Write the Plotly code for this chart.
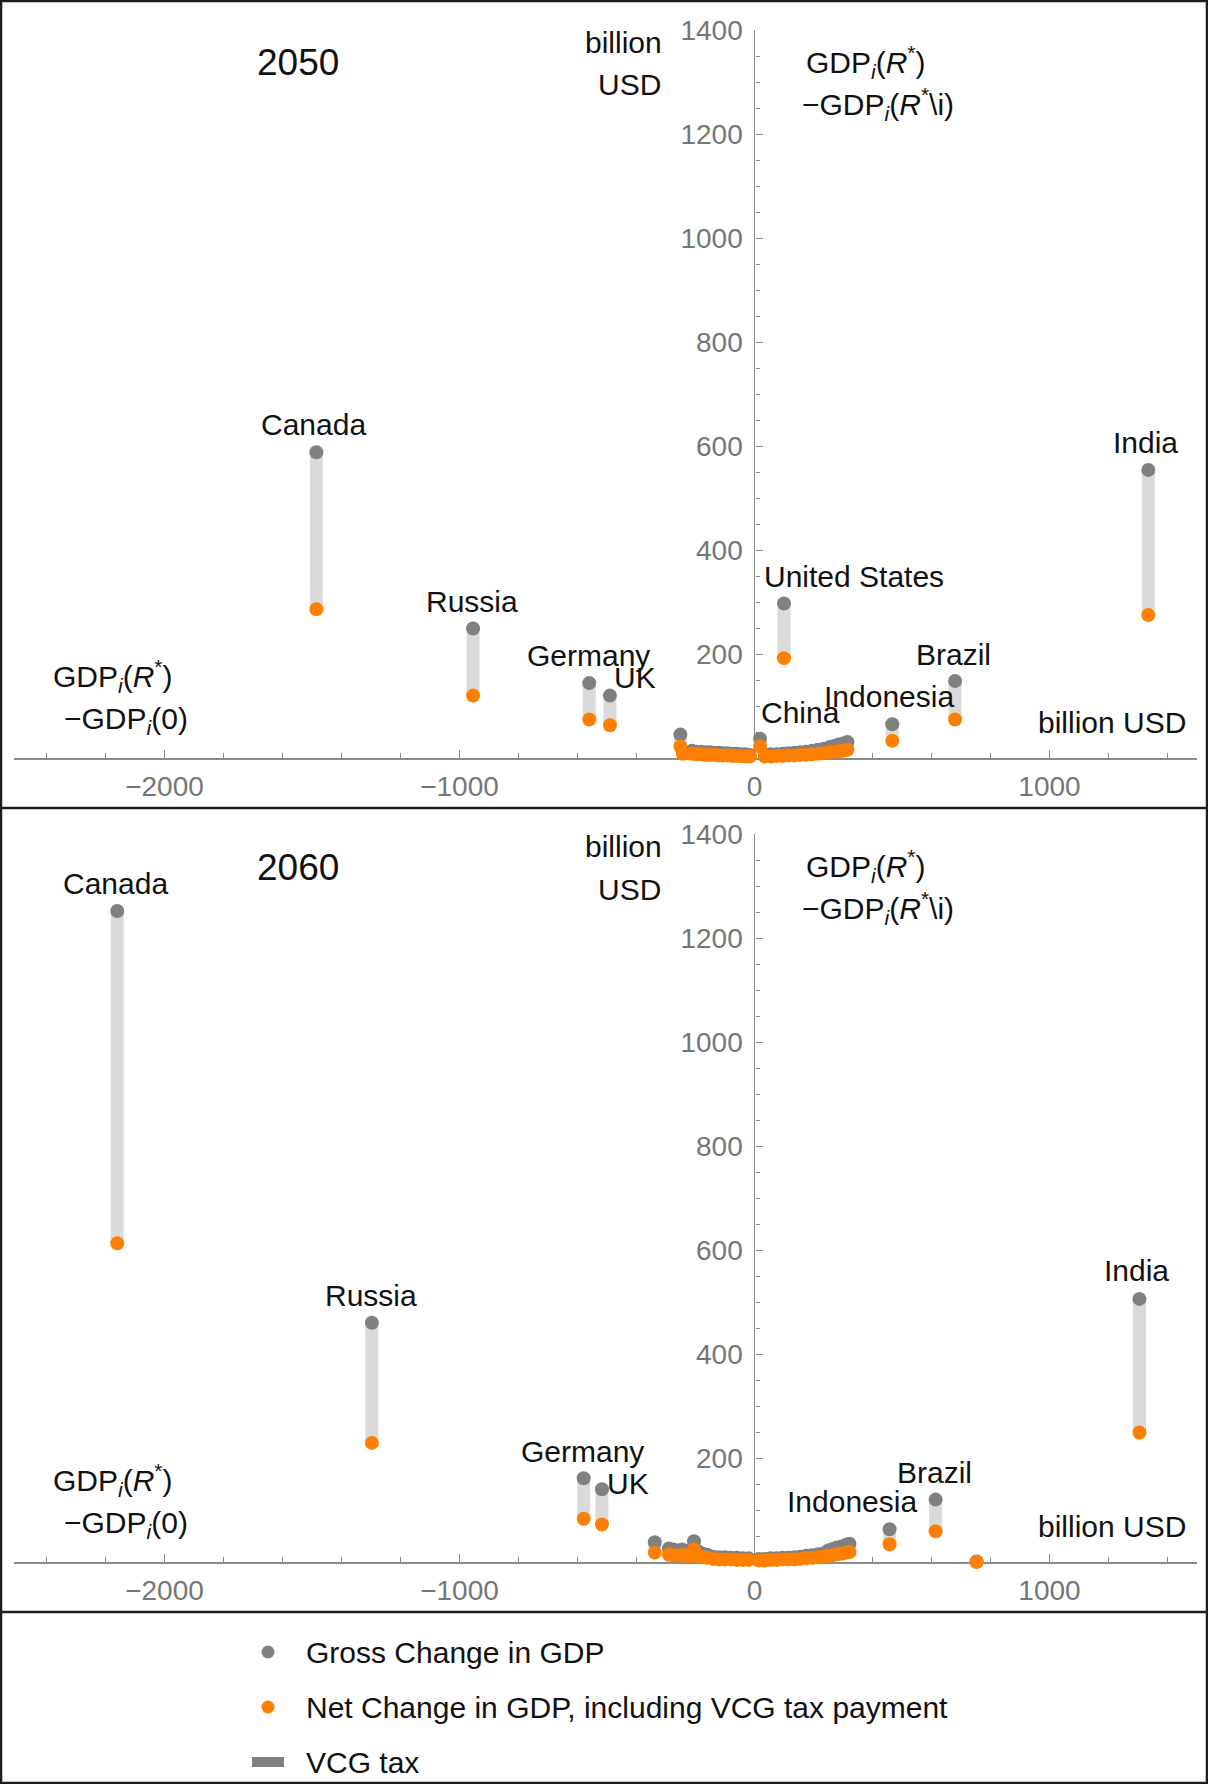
import plotly.graph_objects as go

# ---------------- data ----------------
# 2050 labelled countries
names_2050 = ["Canada", "Russia", "Germany", "UK", "United States", "China", "Indonesia", "Brazil", "India"]
x_2050 = [-1485, -954, -560, -490, 100, 19, 467, 680, 1335]
gross_2050 = [588, 249, 144, 120, 297, 37, 65, 148, 554]
net_2050 = [286, 120, 74, 63, 192, 22, 33, 74, 275]

# 2050 unlabelled countries (cluster near the origin)
cx_2050 = [-251, -243, -212, -196, -181, -166, -151, -136, -121, -106, -91, -76, -61, -46, -31, -16,
           35, 55, 75, 95, 115, 135, 155, 175, 195, 215, 235, 255, 270, 285, 300, 315]
cgross_2050 = [45, 14, 14, 12, 12, 11, 11, 10, 10, 9, 9, 8, 8, 7, 7, 6,
               6, 7, 7, 8, 9, 10, 11, 12, 14, 16, 18, 21, 23, 26, 28, 31]
cnet_2050 = [22, 8, 8, 7, 7, 6, 6, 6, 5, 5, 5, 4, 4, 4, 3, 3,
             3, 3, 4, 4, 5, 5, 6, 6, 7, 8, 9, 11, 12, 13, 14, 16]

# 2060 labelled countries
names_2060 = ["Canada", "Russia", "Germany", "UK", "Indonesia", "Brazil", "India"]
x_2060 = [-2160, -1297, -579, -517, 458, 614, 1305]
gross_2060 = [1252, 460, 161, 140, 63, 120, 506]
net_2060 = [613, 229, 83, 72, 34, 59, 249]

# 2060 unlabelled countries
cx_2060 = [-338, -290, -275, -260, -245, -230, -218, -205, -190, -175, -160, -140, -120, -100, -80, -60,
           -40, -20, 15, 35, 55, 75, 95, 115, 135, 155, 175, 195, 215, 235, 250, 265, 280, 295, 310, 322, 753]
cgross_2060 = [38, 26, 24, 22, 24, 20, 22, 40, 20, 16, 14, 10, 9, 9, 8, 8,
               7, 7, 6, 6, 7, 7, 8, 8, 9, 10, 12, 13, 15, 17, 22, 25, 28, 30, 33, 35, 1]
cnet_2060 = [18, 14, 13, 12, 14, 11, 12, 24, 11, 9, 8, 6, 5, 5, 5, 4,
             4, 4, 3, 3, 4, 4, 5, 5, 5, 6, 7, 8, 9, 10, 12, 13, 15, 16, 18, 19, 0]

x_ticks = [-2000, -1000, 0, 1000]
y_ticks = [200, 400, 600, 800, 1000, 1200, 1400]

legend_labels = ["Gross Change in GDP", "Net Change in GDP, including VCG tax payment", "VCG tax"]

# ---------------- styling / geometry ----------------
W, H = 1208, 1784
FONT = "Arial, 'Liberation Sans', sans-serif"
GRAY = "#808080"
ORANGE = "#ff8000"
BAR = "#dadada"
AXIS = "#8a8a8a"
TICKTXT = "#767676"

X_RANGE = [-2510, 1500]
X_PX = (14, 1197)
PANELS = [  # (y px of value 0, y px of value 1400)
    (758, 30),
    (1562, 834),
]


def pxx(p):
    return p / W


def pxy(p):
    return 1 - p / H


# label offsets (px) relative to the gross point
label_off = {
    2050: {"Canada": (-3, 28), "Russia": (-1, 27), "Germany": (-1, 28), "UK": (25, 18),
           "United States": (70, 27), "China": (40, 26), "Indonesia": (-3, 28), "Brazil": (-2, 27),
           "India": (-3, 27)},
    2060: {"Canada": (-2, 27), "Russia": (-1, 27), "Germany": (-1, 27), "UK": (26, 6),
           "Indonesia": (-38, 28), "Brazil": (-1, 27), "India": (-3, 28)},
}

fig = go.Figure()

datasets = [
    (2050, names_2050, x_2050, gross_2050, net_2050, cx_2050, cgross_2050, cnet_2050),
    (2060, names_2060, x_2060, gross_2060, net_2060, cx_2060, cgross_2060, cnet_2060),
]

annotations = []
x_dom = [pxx(X_PX[0]), pxx(X_PX[1])]
zero_frac = (0 - X_RANGE[0]) / (X_RANGE[1] - X_RANGE[0])
yaxis_pos = x_dom[0] + zero_frac * (x_dom[1] - x_dom[0])

layout_axes = {}
for i, (year, names, xs, gs, ns, cxs, cgs, cns) in enumerate(datasets):
    sfx = "" if i == 0 else str(i + 1)
    xa, ya = "x" + sfx, "y" + sfx
    all_x = xs + cxs
    all_g = gs + cgs
    all_n = ns + cns
    # VCG tax bars
    bx, by = [], []
    for xv, g, n in zip(all_x, all_g, all_n):
        bx += [xv, xv, None]
        by += [n, g, None]
    fig.add_trace(go.Scatter(x=bx, y=by, mode="lines", line=dict(color=BAR, width=13),
                             xaxis=xa, yaxis=ya, showlegend=False, hoverinfo="skip"))
    fig.add_trace(go.Scatter(x=all_x, y=all_g, mode="markers", cliponaxis=False,
                             marker=dict(color=GRAY, size=14, line=dict(width=0)),
                             xaxis=xa, yaxis=ya, showlegend=False))
    fig.add_trace(go.Scatter(x=all_x, y=all_n, mode="markers", cliponaxis=False,
                             marker=dict(color=ORANGE, size=14, line=dict(width=0)),
                             xaxis=xa, yaxis=ya, showlegend=False))
    # country labels
    for nm, xv, g in zip(names, xs, gs):
        dx, dy = label_off[year][nm]
        annotations.append(dict(x=xv, y=g, xref=xa, yref=ya, text=nm, showarrow=False,
                                xanchor="center", yanchor="middle", xshift=dx, yshift=dy,
                                font=dict(family=FONT, size=30, color="#111")))
    y0px, y1px = PANELS[i]
    y_dom = [pxy(y0px), pxy(y1px)]
    layout_axes["xaxis" + sfx] = dict(
        domain=x_dom, range=X_RANGE, anchor=ya, showline=True, linecolor=AXIS, linewidth=2,
        ticks="inside", tickvals=x_ticks, ticklen=8, tickwidth=1.3, tickcolor=AXIS,
        tickfont=dict(family=FONT, size=28, color=TICKTXT), showgrid=False, zeroline=False,
        layer="below traces", ticklabelstandoff=2, automargin=False,
        minor=dict(tickmode="array", tickvals=list(range(-2400, 1500, 200)), ticks="inside",
                   ticklen=5, tickwidth=1.2, tickcolor=AXIS, showgrid=False),
    )
    layout_axes["yaxis" + sfx] = dict(
        domain=y_dom, range=[0, 1400], anchor="free", position=yaxis_pos, showline=True,
        linecolor=AXIS, linewidth=1.3, ticks="inside", tickvals=y_ticks, ticklen=7,
        tickwidth=1.3, tickcolor=AXIS, tickfont=dict(family=FONT, size=28, color=TICKTXT),
        showgrid=False, zeroline=False, layer="below traces", ticklabelstandoff=6, automargin=False,
        minor=dict(tickmode="array", tickvals=list(range(50, 1400, 50)), ticks="inside",
                   ticklen=4, tickwidth=1.2, tickcolor=AXIS, showgrid=False),
    )

    off = 0 if i == 0 else 804
    gdp_top = "GDP<sub><i>i</i></sub>(<i>R</i><sup>*</sup>)"
    gdp_bot1 = "\u2212GDP<sub><i>i</i></sub>(<i>R</i><sup>*</sup>\\i)"
    gdp_bot0 = "\u2212GDP<sub><i>i</i></sub>(0)"
    for text, cx, cy, size in [
        (str(year), 298, 63, 37),
        ("billion", 623, 42, 30),
        ("USD", 629, 85, 30),
        (gdp_top, 866, 62, 30),
        (gdp_bot1, 878, 104, 30),
        (gdp_top, 113, 676, 30),
        (gdp_bot0, 126, 720, 30),
        ("billion USD", 1112, 722, 30),
    ]:
        annotations.append(dict(x=pxx(cx), y=pxy(cy + off), xref="paper", yref="paper", text=text,
                                showarrow=False, xanchor="center", yanchor="middle",
                                font=dict(family=FONT, size=size, color="#111")))

# ---------------- legend (drawn manually) ----------------
shapes = []
leg_y = [1652, 1707, 1762]
leg_x = 268
for lbl, ly in zip(legend_labels, leg_y):
    annotations.append(dict(x=pxx(304), y=pxy(ly), xref="paper", yref="paper", text=lbl,
                            showarrow=False, xanchor="left", yanchor="middle",
                            font=dict(family=FONT, size=30, color="#111")))
shapes.append(dict(type="circle", xref="paper", yref="paper", xsizemode="pixel", ysizemode="pixel",
                   xanchor=pxx(leg_x), yanchor=pxy(leg_y[0]), x0=-6.5, x1=6.5, y0=-6.5, y1=6.5,
                   fillcolor=GRAY, line=dict(width=0)))
shapes.append(dict(type="circle", xref="paper", yref="paper", xsizemode="pixel", ysizemode="pixel",
                   xanchor=pxx(leg_x), yanchor=pxy(leg_y[1]), x0=-6.5, x1=6.5, y0=-6.5, y1=6.5,
                   fillcolor=ORANGE, line=dict(width=0)))
shapes.append(dict(type="rect", xref="paper", yref="paper", xsizemode="pixel", ysizemode="pixel",
                   xanchor=pxx(leg_x), yanchor=pxy(leg_y[2]), x0=-16, x1=16, y0=-5, y1=5,
                   fillcolor=GRAY, line=dict(width=0)))

# ---------------- frame ----------------
FRAME = "#1e1e1e"
shapes.append(dict(type="rect", xref="paper", yref="paper", x0=pxx(1), x1=pxx(W - 1), y0=pxy(H - 1),
                   y1=pxy(1), line=dict(color=FRAME, width=2.5), fillcolor="rgba(0,0,0,0)"))
for sy in (808, 1612):
    shapes.append(dict(type="line", xref="paper", yref="paper", x0=0, x1=1, y0=pxy(sy), y1=pxy(sy),
                       line=dict(color=FRAME, width=2.5)))

fig.update_layout(
    width=W, height=H, autosize=False,
    margin=dict(l=0, r=0, t=0, b=0, pad=0, autoexpand=False),
    paper_bgcolor="white", plot_bgcolor="white", showlegend=False, hovermode=False,
    annotations=annotations, shapes=shapes, **layout_axes,
)

post = (
    "document.documentElement.style.margin='0';document.body.style.margin='0';"
    "document.body.style.padding='0';document.body.style.overflow='hidden';"
    "var gd=document.getElementById('{plot_id}');gd.style.position='absolute';"
    "gd.style.top='0px';gd.style.left='0px';"
)
fig.write_html("out.html", post_script=post, config={"displayModeBar": False})
